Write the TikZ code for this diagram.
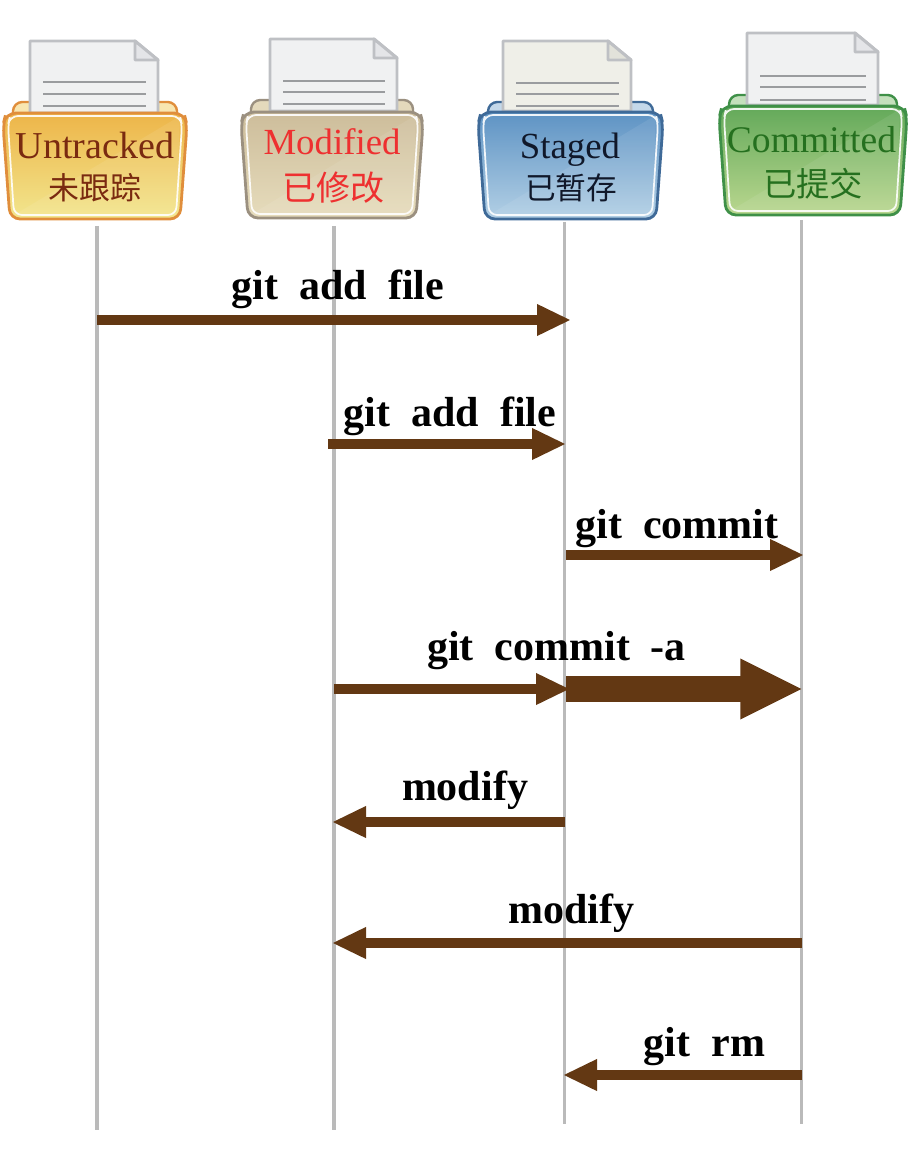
\documentclass[tikz,border=0pt]{standalone}
\usepackage{fontspec}
\setmainfont{Liberation Serif}
\newfontfamily\cjk{Noto Sans CJK SC}
\newfontfamily\cmdfont[WordSpace=2]{Liberation Serif Bold}
\usetikzlibrary{arrows.meta}
\definecolor{arrowbrown}{HTML}{633813}
\definecolor{lifegray}{HTML}{BABABA}
\definecolor{docedge}{HTML}{BEC0C4}
\definecolor{docline}{HTML}{9A9C9F}
\definecolor{docwhite}{HTML}{F0F1F2}
\definecolor{docfoldw}{HTML}{E4E5E8}
\definecolor{doccream}{HTML}{EFEFE8}
\definecolor{docfoldc}{HTML}{E2E2DA}
\definecolor{uedge}{HTML}{E08E3C}
\definecolor{utop}{HTML}{EDB549}
\definecolor{ubot}{HTML}{F2E68E}
\definecolor{uback}{HTML}{F8E6B0}
\definecolor{utext}{HTML}{7A2A10}
\definecolor{medge}{HTML}{9B9080}
\definecolor{mtop}{HTML}{CDBD9B}
\definecolor{mbot}{HTML}{E6DCBC}
\definecolor{mback}{HTML}{E4D9BC}
\definecolor{mtext}{HTML}{EE3030}
\definecolor{sedge}{HTML}{3F6A98}
\definecolor{stop}{HTML}{5E93C4}
\definecolor{sbot}{HTML}{B3D0E5}
\definecolor{sback}{HTML}{C4D8EA}
\definecolor{stext}{HTML}{10182A}
\definecolor{cedge}{HTML}{3F9048}
\definecolor{ctop}{HTML}{63A95A}
\definecolor{cbot}{HTML}{BAD78F}
\definecolor{cback}{HTML}{C4E0BC}
\definecolor{ctext}{HTML}{25701F}
\tikzset{
  lifeline/.style={draw=lifegray,line width=2.3pt},
  msg/.style={draw=arrowbrown,line width=7.4pt,-{Triangle[length=25.5pt,width=22pt,fill=arrowbrown]}},
  bigmsg/.style={draw=arrowbrown,line width=20pt,-{Triangle[length=47pt,width=42pt,fill=arrowbrown]}},
  cmdlabel/.style={anchor=base,inner sep=0pt,font=\cmdfont\fontsize{31.5}{34}\selectfont},
  foldertext/.style={anchor=base,inner sep=0pt,font=\fontsize{#1}{30}\selectfont},
  foldercjk/.style={anchor=base,inner sep=0pt,font=\cjk\fontsize{#1}{30}\selectfont},
}
% \docsheet{x0}{x1}{y0}{y1}{fill}{fold fill}{line y1}{line y2}{line y3}
\newcommand{\docsheet}[9]{
  \pgfmathsetmacro{\dfx}{#2-23}
  \pgfmathsetmacro{\dfy}{#3+19}
  \pgfmathsetmacro{\lxa}{#1+13}
  \pgfmathsetmacro{\lxb}{#2-12}
  \draw[draw=docedge,line width=2.2pt,fill=#5,line join=round]
    (#1,#4) -- (#1,#3) -- (\dfx,#3) -- (#2,\dfy) -- (#2,#4) -- cycle;
  \draw[draw=docedge,line width=2.2pt,fill=#6,line join=round]
    (\dfx,#3) -- (\dfx,\dfy) -- (#2,\dfy) -- cycle;
  \draw[draw=docline,line width=2pt] (\lxa,#7) -- (\lxb,#7) (\lxa,#8) -- (\lxb,#8) (\lxa,#9) -- (\lxb,#9);
}
% \folderback{x0}{x1}{ytop}{ybacktop}{edge}{fill}
\newcommand{\folderback}[6]{
  \pgfmathsetmacro{\bxa}{#1+10}
  \pgfmathsetmacro{\bxb}{#2-10}
  \pgfmathsetmacro{\byb}{#3+10}
  \draw[draw=#5,line width=1.8pt,fill=#6,rounded corners=7pt] (\bxa,\byb) -- (\bxa,#4) -- (\bxb,#4) -- (\bxb,\byb) -- cycle;
}
% \folderfront{x0}{x1}{ytop}{ybot}{edge}{top colour}{bottom colour}
\newcommand{\folderfront}[7]{
  \pgfmathsetmacro{\fa}{#1+3}
  \pgfmathsetmacro{\fb}{#2-3}
  \pgfmathsetmacro{\fc}{#3+12}
  \pgfmathsetmacro{\fd}{#1+7}
  \pgfmathsetmacro{\fe}{#2-7}
  \draw[draw=#5,line width=2.1pt,top color=#6,bottom color=#7,rounded corners=7.5pt]
    (\fa,#3) -- (\fb,#3) -- (#2,\fc) -- (\fe,#4) -- (\fd,#4) -- (#1,\fc) -- cycle;
  \pgfmathsetmacro{\ga}{#1+7}
  \pgfmathsetmacro{\gb}{#2-7}
  \pgfmathsetmacro{\gc}{#3+3}
  \pgfmathsetmacro{\gd}{#4-4}
  \pgfmathsetmacro{\ge}{#1+11}
  \pgfmathsetmacro{\gf}{#2-11}
  \pgfmathsetmacro{\gg}{#1+5}
  \pgfmathsetmacro{\gh}{#2-5}
  \pgfmathsetmacro{\gi}{#3+12}
  \fill[white,opacity=.08] (\gb,\gc) -- (\gf,\gd) -- (\ge,\gd) -- cycle;
  \draw[draw=white,opacity=.9,line width=1.3pt,rounded corners=6pt]
    (\ga,\gc) -- (\gb,\gc) -- (\gh,\gi) -- (\gf,\gd) -- (\ge,\gd) -- (\gg,\gi) -- cycle;
}
\begin{document}
\begin{tikzpicture}[x=0.75pt,y=-0.75pt]
\useasboundingbox (0,0) rectangle (916,1162);

% lifeline end points
\coordinate (lutop) at (97,226);   \coordinate (lubot) at (97,1130);
\coordinate (lmtop) at (334,226);  \coordinate (lmbot) at (334,1130);
\coordinate (lstop) at (564.5,222); \coordinate (lsbot) at (564.5,1124);
\coordinate (lctop) at (801.5,220); \coordinate (lcbot) at (801.5,1124);
\draw[lifeline] (lutop) -- (lubot);
\draw[lifeline] (lmtop) -- (lmbot);
\draw[lifeline] (lstop) -- (lsbot);
\draw[lifeline] (lctop) -- (lcbot);

% Untracked
\folderback{3}{187}{113}{102}{uedge}{uback}
\docsheet{30}{158}{41}{113}{docwhite}{docfoldw}{82}{94}{106}
\folderfront{3}{187}{113}{219}{uedge}{utop}{ubot}
\node[foldertext=28.5,text=utext] (untracked) at (95,159) {Untracked};
\node[foldercjk=23.2,text=utext] (untrackedcn) at (95,200) {未跟踪};

% Modified
\folderback{241}{423}{112}{100}{medge}{mback}
\docsheet{270}{397}{39}{111}{docwhite}{docfoldw}{81}{92}{104}
\folderfront{241}{423}{112}{218}{medge}{mtop}{mbot}
\node[foldertext=27.6,text=mtext] (modified) at (332,155) {Modified};
\node[foldercjk=25.5,text=mtext] (modifiedcn) at (333,201) {已修改};

% Staged
\folderback{478}{663}{112}{102}{sedge}{sback}
\docsheet{503}{631}{41}{111}{doccream}{docfoldc}{83}{94}{106}
\folderfront{478}{663}{112}{219}{sedge}{stop}{sbot}
\node[foldertext=27.6,text=stext] (staged) at (570,159) {Staged};
\node[foldercjk=23,text=stext] (stagedcn) at (571,200) {已暂存};

% Committed
\folderback{719}{907}{106}{95}{cedge}{cback}
\docsheet{747}{878}{33}{105}{docwhite}{docfoldw}{76}{87}{100}
\folderfront{719}{907}{106}{215}{cedge}{ctop}{cbot}
\node[foldertext=28.2,text=ctext] (committed) at (811.5,153) {Committed};
\node[foldercjk=25,text=ctext] (committedcn) at (813,197) {已提交};

% message ends
\coordinate (a1s) at (97,320);    \coordinate (a1e) at (571,320);
\coordinate (a2s) at (328,444);   \coordinate (a2e) at (566,444);
\coordinate (a3s) at (566,555);   \coordinate (a3e) at (804,555);
\coordinate (a4s) at (334,689);   \coordinate (a4e) at (570,689);
\coordinate (a5s) at (566,689);   \coordinate (a5e) at (803,689);
\coordinate (a6s) at (565,822);   \coordinate (a6e) at (332,822);
\coordinate (a7s) at (802,943);   \coordinate (a7e) at (332,943);
\coordinate (a8s) at (802,1075);  \coordinate (a8e) at (563,1075);
\draw[msg] (a1s) -- (a1e);
\draw[msg] (a2s) -- (a2e);
\draw[msg] (a3s) -- (a3e);
\draw[msg] (a4s) -- (a4e);
\draw[bigmsg] (a5s) -- (a5e);
\draw[msg] (a6s) -- (a6e);
\draw[msg] (a7s) -- (a7e);
\draw[msg] (a8s) -- (a8e);

% message labels
\node[cmdlabel] (l1) at (338,300) {git add file};
\node[cmdlabel] (l2) at (450,426) {git add file};
\node[cmdlabel] (l3) at (677,538) {git commit};
\node[cmdlabel] (l4) at (556.5,660) {git commit -a};
\node[cmdlabel] (l5) at (465,800) {modify};
\node[cmdlabel] (l6) at (571.5,923) {modify};
\node[cmdlabel] (l7) at (704.5,1056) {git rm};
\end{tikzpicture}
\end{document}
